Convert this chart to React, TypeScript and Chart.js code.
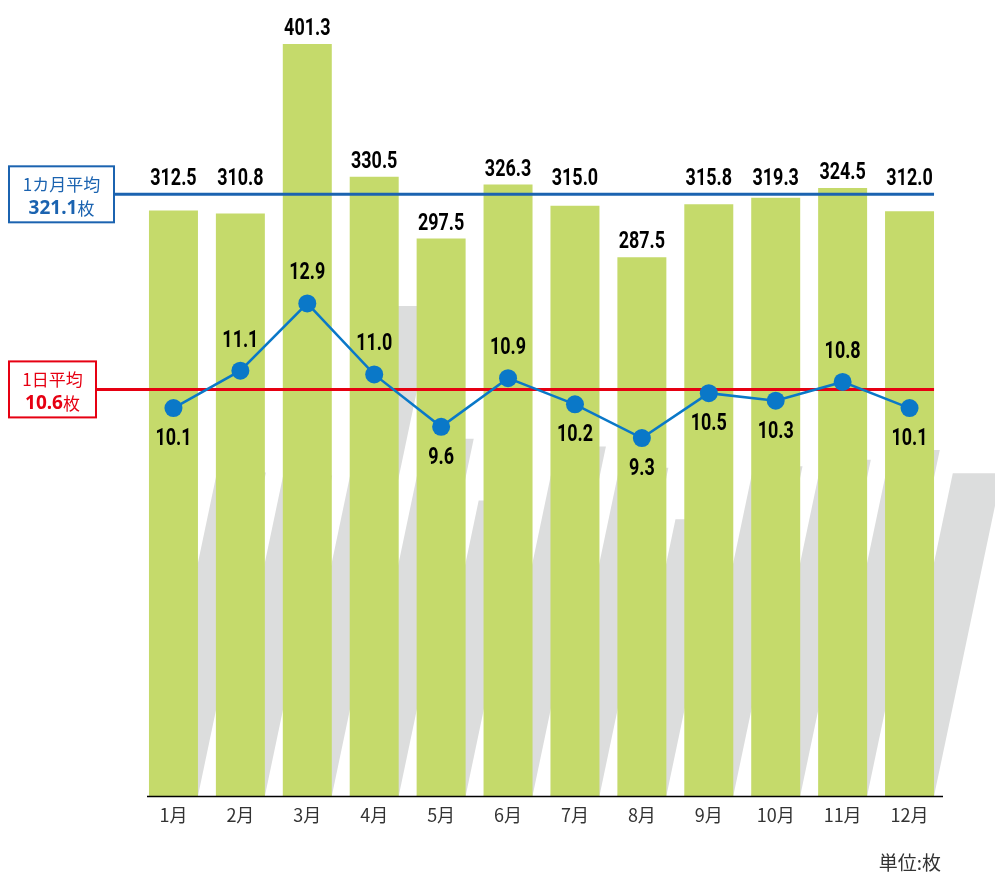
import React, { useEffect, useRef } from "react";
import { Chart, registerables } from "chart.js";

Chart.register(...registerables);

// ---- data ----
const months = ["1月", "2月", "3月", "4月", "5月", "6月", "7月", "8月", "9月", "10月", "11月", "12月"];
const monthlySheets = [312.5, 310.8, 401.3, 330.5, 297.5, 326.3, 315.0, 287.5, 315.8, 319.3, 324.5, 312.0];
const dailySheets = [10.1, 11.1, 12.9, 11.0, 9.6, 10.9, 10.2, 9.3, 10.5, 10.3, 10.8, 10.1];
const monthlyAverage = 321.1;
const dailyAverage = 10.6;
const monthlyAvgTitle = "1カ月平均";
const dailyAvgTitle = "1日平均";
const sheetUnit = "枚";
const unitLabel = "単位:枚";

// ---- styles ----
const BAR_COLOR = "#c5da6b";
const SHADOW_COLOR = "#dcdddd";
const LINE_COLOR = "#0a78c8";
const BLUE = "#1b63b0";
const RED = "#e60012";
const CJK = "'Noto Sans CJK JP', 'Noto Sans', sans-serif";
const NUM_FONT = "bold 23px Roboto, 'Noto Sans', sans-serif";
const NUM_SCALE = 0.78;

function narrowText(ctx: CanvasRenderingContext2D, text: string, x: number, y: number) {
  ctx.save();
  ctx.translate(x, y);
  ctx.scale(NUM_SCALE, 1);
  ctx.fillText(text, 0, 0);
  ctx.restore();
}

function drawAvgBox(
  ctx: CanvasRenderingContext2D,
  color: string,
  left: number,
  right: number,
  cy: number,
  title: string,
  value: string
) {
  const top = cy - 28;
  const h = 56;
  ctx.save();
  ctx.fillStyle = "#ffffff";
  ctx.fillRect(left, top, right - left, h);
  ctx.strokeStyle = color;
  ctx.lineWidth = 2;
  ctx.strokeRect(left, top, right - left, h);
  ctx.fillStyle = color;
  ctx.textBaseline = "middle";
  ctx.textAlign = "center";
  const cx = (left + right) / 2;
  ctx.font = `17px ${CJK}`;
  ctx.fillText(title, cx, cy - 10);
  const numFont = "bold 19px 'Noto Sans', sans-serif";
  const unitFont = `17px ${CJK}`;
  ctx.font = numFont;
  const wNum = ctx.measureText(value).width;
  ctx.font = unitFont;
  const wUnit = ctx.measureText(sheetUnit).width;
  const start = cx - (wNum + wUnit) / 2;
  ctx.textAlign = "left";
  ctx.font = numFont;
  ctx.fillText(value, start, cy + 14);
  ctx.font = unitFont;
  ctx.fillText(sheetUnit, start + wNum, cy + 14);
  ctx.restore();
}

const decorPlugin = {
  id: "decor",
  beforeDatasetsDraw(chart: any) {
    const meta = chart.getDatasetMeta(0);
    const ctx: CanvasRenderingContext2D = chart.ctx;
    ctx.save();
    ctx.fillStyle = SHADOW_COLOR;
    meta.data.forEach((bar: any) => {
      const { x, y, base, width } = bar.getProps(["x", "y", "base", "width"], true);
      const h = Math.max(0, base - y - 262);
      const shift = h * 0.21;
      const l = x - width / 2;
      const r = x + width / 2;
      ctx.beginPath();
      ctx.moveTo(l, base);
      ctx.lineTo(r, base);
      ctx.lineTo(r + shift, base - h);
      ctx.lineTo(l + shift, base - h);
      ctx.closePath();
      ctx.fill();
    });
    ctx.restore();
  },
  afterDatasetDraw(chart: any, args: any) {
    if (args.index !== 0) return;
    const ctx: CanvasRenderingContext2D = chart.ctx;
    const y = chart.scales.y;
    const y1 = chart.scales.y1;
    const area = chart.chartArea;
    const meta = chart.getDatasetMeta(0);
    const last = meta.data[meta.data.length - 1];
    const lineEnd = last.x + last.width / 2;

    ctx.save();
    ctx.strokeStyle = "#000";
    ctx.lineWidth = 1.5;
    ctx.beginPath();
    ctx.moveTo(area.left + 7, area.bottom + 0.5);
    ctx.lineTo(area.right, area.bottom + 0.5);
    ctx.stroke();

    const yM = y.getPixelForValue(monthlyAverage);
    ctx.strokeStyle = BLUE;
    ctx.lineWidth = 3;
    ctx.beginPath();
    ctx.moveTo(114, yM);
    ctx.lineTo(lineEnd, yM);
    ctx.stroke();

    const yD = y1.getPixelForValue(dailyAverage);
    ctx.strokeStyle = RED;
    ctx.beginPath();
    ctx.moveTo(96, yD);
    ctx.lineTo(lineEnd, yD);
    ctx.stroke();
    ctx.restore();

    drawAvgBox(ctx, BLUE, 9, 114, yM, monthlyAvgTitle, monthlyAverage.toFixed(1));
    drawAvgBox(ctx, RED, 9, 96, yD, dailyAvgTitle, dailyAverage.toFixed(1));
  },
  afterDatasetsDraw(chart: any) {
    const ctx: CanvasRenderingContext2D = chart.ctx;
    const y = chart.scales.y;
    const avgY = y.getPixelForValue(monthlyAverage);
    ctx.save();
    ctx.font = NUM_FONT;
    ctx.fillStyle = "#000";
    ctx.textAlign = "center";
    ctx.textBaseline = "alphabetic";
    chart.getDatasetMeta(0).data.forEach((bar: any, i: number) => {
      const top = bar.y;
      let baseline = top - 9;
      if (top > avgY - 2 && top - avgY < 30) baseline = avgY - 9;
      narrowText(ctx, monthlySheets[i].toFixed(1), bar.x, baseline);
    });
    chart.getDatasetMeta(1).data.forEach((pt: any, i: number) => {
      const v = dailySheets[i];
      const baseline = v > dailyAverage ? pt.y - 24 : pt.y + 37;
      narrowText(ctx, v.toFixed(1), pt.x, baseline);
    });
    ctx.font = `19px ${CJK}`;
    ctx.fillStyle = "#333";
    ctx.textAlign = "right";
    ctx.textBaseline = "middle";
    ctx.fillText(unitLabel, chart.chartArea.right - 2, 863);
    ctx.restore();
  },
};

export default function App() {
  const ref = useRef<HTMLCanvasElement | null>(null);
  useEffect(() => {
    if (!ref.current) return;
    const chart = new Chart(ref.current, {
      data: {
        labels: months,
        datasets: [
          {
            type: "bar",
            data: monthlySheets,
            backgroundColor: BAR_COLOR,
            borderWidth: 0,
            yAxisID: "y",
            order: 2,
            barPercentage: 0.732,
            categoryPercentage: 1,
          },
          {
            type: "line",
            data: dailySheets,
            borderColor: LINE_COLOR,
            backgroundColor: LINE_COLOR,
            borderWidth: 2.5,
            pointRadius: 9,
            pointBorderWidth: 0,
            pointBackgroundColor: LINE_COLOR,
            tension: 0,
            yAxisID: "y1",
            order: 1,
          },
        ],
      } as any,
      options: {
        responsive: false,
        animation: false,
        devicePixelRatio: 1,
        layout: { padding: { left: 140, right: 52, top: 7, bottom: 0 } },
        plugins: { legend: { display: false }, tooltip: { enabled: false } },
        scales: {
          x: {
            offset: true,
            grid: { display: false, drawTicks: false },
            border: { display: false },
            ticks: {
              color: "#333",
              font: { family: CJK, size: 18 },
              padding: 8,
              maxRotation: 0,
            },
            afterFit: (scale: any) => {
              scale.height = 77;
            },
          },
          y: { display: false, min: 0, max: 420 },
          y1: { display: false, min: -0.27, max: 20.77 },
        },
      } as any,
      plugins: [decorPlugin],
    });
    return () => chart.destroy();
  }, []);
  return (
    <div style={{ position: "fixed", left: 0, top: 0, width: 995, height: 873, background: "#fff" }}>
      <canvas ref={ref} width={995} height={873} style={{ display: "block" }} />
    </div>
  );
}
